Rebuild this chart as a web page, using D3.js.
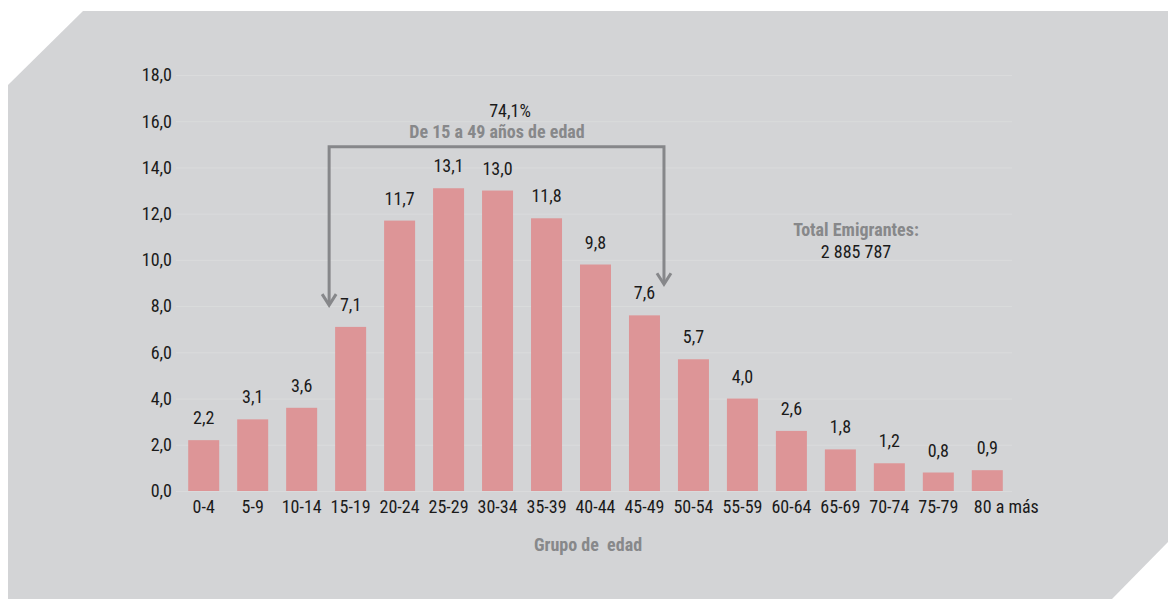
<!DOCTYPE html>
<html lang="es">
<head>
<meta charset="UTF-8">
<title>Emigrantes por grupo de edad</title>
<script src="https://d3js.org/d3.v7.min.js"></script>
<style>
  body { margin: 0; background: #fff; }
  svg { display: block; font-family: "Liberation Sans Narrow", "Arial Narrow", "Roboto Condensed", sans-serif; }
  .tick-label { font-size: 18px; fill: #1a1a1a; }
  .value-label { font-size: 18px; fill: #1a1a1a; text-anchor: middle; }
  .grey-bold { font-weight: bold; fill: #87888a; white-space: pre; }
</style>
</head>
<body>
<svg width="1168" height="599"></svg>
<script>
  // data
  const groups = ["0-4", "5-9", "10-14", "15-19", "20-24", "25-29", "30-34", "35-39", "40-44",
                  "45-49", "50-54", "55-59", "60-64", "65-69", "70-74", "75-79", "80 a más"];
  const shares = [2.2, 3.1, 3.6, 7.1, 11.7, 13.1, 13.0, 11.8, 9.8, 7.6, 5.7, 4.0, 2.6, 1.8, 1.2, 0.8, 0.9];
  const yTicks = [0, 2, 4, 6, 8, 10, 12, 14, 16, 18];

  const fmt = v => d3.format(".1f")(v).replace(".", ",");

  const svg = d3.select("svg");

  // grey panel with cut corners
  svg.append("path")
    .attr("d", "M83,11 L1168,11 L1168,542 L1112,599 L8,599 L8,85 Z")
    .attr("fill", "#d3d4d6");

  const x = d3.scaleBand()
    .domain(groups)
    .range([174, 1017])
    .paddingInner(0.367)
    .paddingOuter(0.29);

  const y = d3.scaleLinear()
    .domain([0, 18])
    .range([491, 75]);

  // faint gridlines + tick labels
  const grid = svg.append("g");
  grid.selectAll("line")
    .data(yTicks)
    .enter().append("line")
    .attr("x1", 176)
    .attr("x2", 1012)
    .attr("y1", d => y(d) + 0.5)
    .attr("y2", d => y(d) + 0.5)
    .attr("stroke", "#dadbdc")
    .attr("stroke-width", 1);

  grid.selectAll("text")
    .data(yTicks)
    .enter().append("text")
    .attr("class", "tick-label")
    .attr("x", 172)
    .attr("y", d => y(d))
    .attr("dy", "0.35em")
    .attr("text-anchor", "end")
    .text(d => fmt(d));

  // bars
  svg.append("g")
    .selectAll("rect")
    .data(shares)
    .enter().append("rect")
    .attr("x", (d, i) => x(groups[i]))
    .attr("y", d => y(d))
    .attr("width", x.bandwidth())
    .attr("height", d => y(0) - y(d))
    .attr("fill", "#dd9597");

  // value labels
  svg.append("g")
    .selectAll("text")
    .data(shares)
    .enter().append("text")
    .attr("class", "value-label")
    .attr("x", (d, i) => x(groups[i]) + x.bandwidth() / 2)
    .attr("y", d => y(d) - 16)
    .text(d => fmt(d));

  // category labels
  svg.append("g")
    .selectAll("text")
    .data(groups)
    .enter().append("text")
    .attr("class", "tick-label")
    .attr("x", (d, i) => i === groups.length - 1 ? x(d) + 2 : x(d) + x.bandwidth() / 2)
    .attr("y", 513)
    .attr("text-anchor", (d, i) => i === groups.length - 1 ? "start" : "middle")
    .text(d => d);

  // axis title
  svg.append("text")
    .attr("class", "grey-bold")
    .attr("x", 588)
    .attr("y", 551)
    .attr("text-anchor", "middle")
    .style("font-size", "18px")
    .text("Grupo de  edad");

  // bracket 15-49
  const bx1 = x("15-19") - 6;
  const bx2 = x("45-49") + x.bandwidth() + 4;
  const by = y(14.9);
  const tipL = y(8.0), tipR = y(8.9);
  const bracket = svg.append("g")
    .attr("fill", "none")
    .attr("stroke", "#86878a")
    .attr("stroke-width", 3);
  bracket.append("path")
    .attr("d", `M${bx1},${tipL - 2} L${bx1},${by} L${bx2},${by} L${bx2},${tipR - 2}`);
  [[bx1, tipL], [bx2, tipR]].forEach(([ax, ay]) => {
    bracket.append("path")
      .attr("d", `M${ax - 7},${ay - 12} L${ax},${ay - 1} L${ax + 7},${ay - 12}`);
  });

  svg.append("text")
    .attr("x", 510)
    .attr("y", 117)
    .attr("text-anchor", "middle")
    .style("font-size", "18px")
    .attr("fill", "#1a1a1a")
    .text("74,1%");

  svg.append("text")
    .attr("class", "grey-bold")
    .attr("x", 497)
    .attr("y", 138)
    .attr("text-anchor", "middle")
    .style("font-size", "18px")
    .text("De 15 a 49 años de edad");

  // total box
  svg.append("text")
    .attr("class", "grey-bold")
    .attr("x", 856)
    .attr("y", 236)
    .attr("text-anchor", "middle")
    .style("font-size", "18px")
    .text("Total Emigrantes:");

  svg.append("text")
    .attr("x", 856)
    .attr("y", 258)
    .attr("text-anchor", "middle")
    .style("font-size", "18px")
    .attr("fill", "#1a1a1a")
    .text("2 885 787");
</script>
</body>
</html>
